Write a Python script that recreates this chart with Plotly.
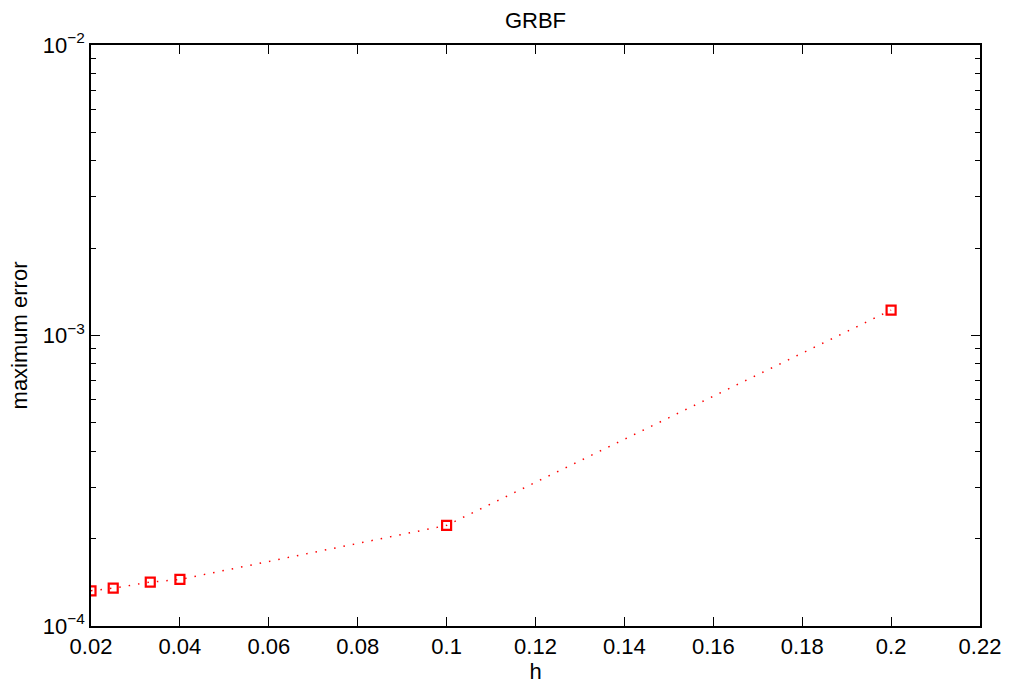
import plotly.graph_objects as go

h = [0.02, 0.025, 1/30, 0.04, 0.1, 0.2]
max_error = [1.322e-4, 1.35e-4, 1.416e-4, 1.446e-4, 2.22e-4, 1.223e-3]

x_ticks = [0.02, 0.04, 0.06, 0.08, 0.1, 0.12, 0.14, 0.16, 0.18, 0.2, 0.22]
x_ticktext = ["0.02", "0.04", "0.06", "0.08", "0.1", "0.12", "0.14", "0.16", "0.18", "0.2", "0.22"]
y_ticks = [1e-4, 1e-3, 1e-2]
y_ticktext = ["10<sup>−4</sup>", "10<sup>−3</sup>", "10<sup>−2</sup>"]
y_minor = [m * d for d in (1e-4, 1e-3) for m in range(2, 10)]

font = "Liberation Sans, Arial, Helvetica, sans-serif"
fs = 22

fig = go.Figure()
fig.add_trace(go.Scatter(
    x=h, y=max_error, mode="lines+markers",
    line=dict(color="red", width=1.5, dash="1.5px,8px"),
    marker=dict(symbol="square-open", size=9, color="red", line=dict(color="red", width=2.2)),
    showlegend=False,
))

axis_common = dict(
    showline=True, linecolor="black", linewidth=1.5, mirror="ticks",
    ticks="inside", ticklen=9, tickcolor="black", tickwidth=1,
    showgrid=False, zeroline=False,
    tickfont=dict(family=font, size=fs, color="black"),
)

fig.update_layout(
    width=1013, height=689,
    margin=dict(l=91, r=26, t=45, b=61),
    paper_bgcolor="white", plot_bgcolor="white",
    font=dict(family=font, size=fs, color="black"),
    title=dict(text="GRBF", x=0.5, xanchor="center", y=1 - 20/689, yanchor="middle",
               xref="paper", font=dict(family=font, size=fs, color="black")),
    xaxis=dict(range=[0.02, 0.22], tickmode="array", tickvals=x_ticks, ticktext=x_ticktext,
               title=dict(text="h", standoff=2, font=dict(family=font, size=fs)), **axis_common),
    yaxis=dict(type="log", range=[-4, -2], tickmode="array", tickvals=y_ticks, ticktext=y_ticktext,
               title=dict(text="maximum error", standoff=9, font=dict(family=font, size=fs)),
               minor=dict(tickmode="array", tickvals=y_minor, ticks="inside", ticklen=5,
                          tickcolor="black", tickwidth=1, showgrid=False),
               **axis_common),
)

fig.write_html("out.html")
